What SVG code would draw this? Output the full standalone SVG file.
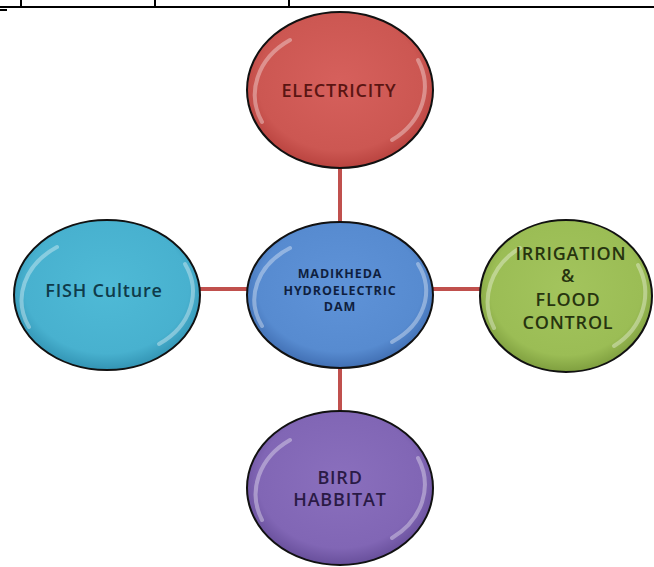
<svg xmlns="http://www.w3.org/2000/svg" width="654" height="567" viewBox="0 0 654 567">
<style>
.node ellipse.body{stroke:#111;stroke-width:2}
.hl{fill:none;stroke:#fff;stroke-opacity:0.35;stroke-width:4;stroke-linecap:round}
text{font-family:"Open Sans","Liberation Sans",sans-serif;text-anchor:middle}
.lbl{font-size:18px;font-weight:600;letter-spacing:0.8px}
.small{font-size:12.5px;font-weight:bold;letter-spacing:0.9px}
.conn line{stroke:#c0504d;stroke-width:4}
.tbl line{stroke:#000;stroke-width:2}
</style>
<defs>
<radialGradient id="gRed" cx="0.5" cy="0.45" r="0.55"><stop offset="0" stop-color="#d6605c"/><stop offset="0.8" stop-color="#cc5752"/><stop offset="1" stop-color="#b9433f"/></radialGradient>
<radialGradient id="gBlue" cx="0.5" cy="0.45" r="0.55"><stop offset="0" stop-color="#5f93d8"/><stop offset="0.8" stop-color="#578bd0"/><stop offset="1" stop-color="#416fb3"/></radialGradient>
<radialGradient id="gCyan" cx="0.5" cy="0.45" r="0.55"><stop offset="0" stop-color="#4fbad6"/><stop offset="0.8" stop-color="#48b1cf"/><stop offset="1" stop-color="#3394b4"/></radialGradient>
<radialGradient id="gGreen" cx="0.5" cy="0.45" r="0.55"><stop offset="0" stop-color="#a3c45d"/><stop offset="0.8" stop-color="#9bbd55"/><stop offset="1" stop-color="#7f9f3f"/></radialGradient>
<radialGradient id="gPurple" cx="0.5" cy="0.45" r="0.55"><stop offset="0" stop-color="#8a6fbd"/><stop offset="0.8" stop-color="#8166b5"/><stop offset="1" stop-color="#684f9b"/></radialGradient>
</defs>
<rect width="654" height="567" fill="#fff"/>
<g class="tbl">
<line x1="0" y1="7" x2="654" y2="7"/>
<line x1="21" y1="0" x2="21" y2="7"/>
<line x1="155" y1="0" x2="155" y2="7"/>
<line x1="289" y1="0" x2="289" y2="7"/>
<line x1="0" y1="10" x2="7" y2="10"/>
</g>
<g class="conn">
<line x1="340" y1="166" x2="340" y2="224"/>
<line x1="340" y1="366" x2="340" y2="412"/>
<line x1="198" y1="289" x2="249" y2="289"/>
<line x1="431" y1="289" x2="480" y2="289"/>
</g>
<g id="electricity" class="node">
<ellipse class="body" cx="340" cy="90" rx="93" ry="78" fill="url(#gRed)"/>
<path class="hl" d="M262,122 A80,66 0 0 1 290,40"/>
<path class="hl" d="M418,60 A80,66 0 0 1 392,140"/>
<text class="lbl" x="339" y="97" fill="#5a1512">ELECTRICITY</text>
</g>
<g id="dam" class="node">
<ellipse class="body" cx="340" cy="295" rx="93" ry="73" fill="url(#gBlue)"/>
<path class="hl" d="M262,326 A80,62 0 0 1 290,248"/>
<path class="hl" d="M418,264 A80,62 0 0 1 392,342"/>
<text class="small" x="340" y="278" fill="#0f1f3f">MADIKHEDA</text>
<text class="small" x="340" y="295" fill="#0f1f3f">HYDROELECTRIC</text>
<text class="small" x="340" y="311" fill="#0f1f3f">DAM</text>
</g>
<g id="fish" class="node">
<ellipse class="body" cx="107" cy="295" rx="93" ry="75" fill="url(#gCyan)"/>
<path class="hl" d="M29,327 A80,64 0 0 1 57,247"/>
<path class="hl" d="M185,264 A80,64 0 0 1 159,344"/>
<text class="lbl" x="104" y="297" fill="#0f3b4a">FISH Culture</text>
</g>
<g id="irrigation" class="node">
<ellipse class="body" cx="566" cy="296" rx="86" ry="76" fill="url(#gGreen)"/>
<path class="hl" d="M494,328 A74,65 0 0 1 520,248"/>
<path class="hl" d="M638,265 A74,65 0 0 1 614,346"/>
<text class="lbl" x="571" y="260" fill="#27340f">IRRIGATION</text>
<text class="lbl" x="568" y="282" fill="#27340f">&amp;</text>
<text class="lbl" x="568" y="306" fill="#27340f">FLOOD</text>
<text class="lbl" x="568" y="329" fill="#27340f">CONTROL</text>
</g>
<g id="bird" class="node">
<ellipse class="body" cx="340" cy="488" rx="93" ry="77" fill="url(#gPurple)"/>
<path class="hl" d="M262,520 A80,66 0 0 1 290,440"/>
<path class="hl" d="M418,458 A80,66 0 0 1 392,538"/>
<text class="lbl" x="340" y="484" fill="#2a1a45">BIRD</text>
<text class="lbl" x="340" y="506" fill="#2a1a45">HABBITAT</text>
</g>
</svg>
